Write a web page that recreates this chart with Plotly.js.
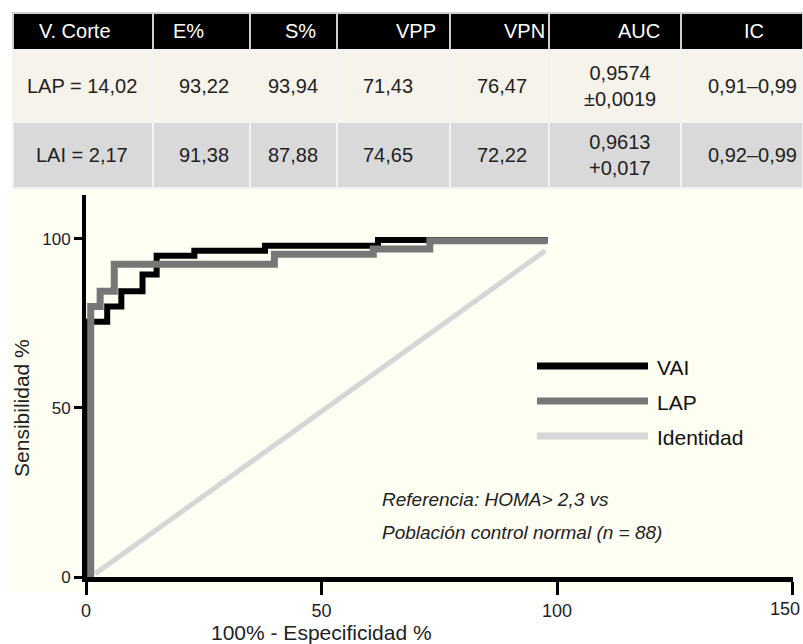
<!DOCTYPE html>
<html>
<head>
<meta charset="utf-8">
<script src="https://cdn.plot.ly/plotly-3.0.1.min.js"></script>
<style>html,body{margin:0;padding:0;background:#fff;}#chart{width:803px;height:644px;}</style>
</head>
<body>
<div id="chart"></div>
<script>
// ---------- data ----------
const tableHeaders = ['V. Corte', 'E%', 'S%', 'VPP', 'VPN', 'AUC', 'IC'];
const tableRowLAP = ['LAP = 14,02', '93,22', '93,94', '71,43', '76,47', '0,9574<br>±0,0019', '0,91–0,99'];
const tableRowLAI = ['LAI = 2,17', '91,38', '87,88', '74,65', '72,22', '0,9613<br>+0,017', '0,92–0,99'];

const seriesNames = ['VAI', 'LAP', 'Identidad'];
const vaiX = [0, 0, 4.5, 7.5, 12, 15, 23, 38, 62, 98];
const vaiY = [0, 75.5, 80, 84.5, 89.5, 95, 96.5, 98, 99.7, 99.7];
const lapX = [1, 1, 3, 6, 40, 61, 73, 98];
const lapY = [0, 80, 84.5, 92.5, 95.5, 97, 99.5, 99.5];
const idX = [2, 97.5];
const idY = [1, 96.5];

const xTickVals = [0, 50, 100, 150];
const xTickText = ['0', '50', '100', '150'];
const yTickVals = [0, 50, 100];
const xTitle = '100% - Especificidad %';
const yTitle = 'Sensibilidad %';
const noteLines = ['Referencia: HOMA> 2,3 vs', 'Población control normal (n = 88)'];

// ---------- layout helpers ----------
const W = 803, H = 644;
const px = v => v / W;
const py = v => 1 - v / H;
const FONT = '"Liberation Sans", Arial, Helvetica, sans-serif';
const colors = {VAI: '#000000', LAP: '#777777', Identidad: '#d6d6d6'};

const colEdges = [13, 153, 250, 337, 450, 549, 681, 803];
const rowEdges = [13, 50, 122, 188];
const rowFills = ['#000000', '#f6f3eb', '#d9d9d9'];
const headerCx = [75, 188, 300, 416, 524, 639, 754];
const cellCx = [82, 204, 293, 388, 502, 620, 752];

const shapes = [];
const annotations = [];

// cream background of the chart
shapes.push({type: 'rect', xref: 'paper', yref: 'paper', layer: 'below',
  x0: px(8), x1: px(803), y0: py(188), y1: py(592),
  fillcolor: '#fefef2', line: {width: 0}});

// table cells
const tableRows = [tableHeaders, tableRowLAP, tableRowLAI];
tableRows.forEach((row, r) => {
  row.forEach((txt, c) => {
    shapes.push({type: 'rect', xref: 'paper', yref: 'paper', layer: 'below',
      x0: px(colEdges[c]), x1: px(colEdges[c + 1]),
      y0: py(rowEdges[r + 1]), y1: py(rowEdges[r]),
      fillcolor: rowFills[r], line: {color: r === 0 ? '#cfcfcf' : '#f2f2f2', width: 2}});
    annotations.push({xref: 'paper', yref: 'paper',
      x: px(r === 0 ? headerCx[c] : cellCx[c]),
      y: py((rowEdges[r] + rowEdges[r + 1]) / 2),
      xanchor: 'center', yanchor: 'middle', showarrow: false, text: txt,
      font: {family: FONT, size: 20, color: r === 0 ? '#ffffff' : '#222222'}});
  });
});

// axis titles
annotations.push({xref: 'x', yref: 'paper', x: 50, y: py(632), text: xTitle, showarrow: false,
  xanchor: 'center', yanchor: 'middle', font: {family: FONT, size: 21, color: '#222'}});
annotations.push({xref: 'paper', yref: 'y', x: px(22), y: 50, text: yTitle, showarrow: false,
  textangle: -90, xanchor: 'center', yanchor: 'middle', font: {family: FONT, size: 21, color: '#222'}});

// note text
const noteY = [499, 532];
noteLines.forEach((t, i) => {
  annotations.push({xref: 'paper', yref: 'paper', x: px(380), y: py(noteY[i]), text: '<i>' + t + '</i>',
    showarrow: false, xanchor: 'left', yanchor: 'middle', font: {family: FONT, size: 19, color: '#222'}});
});

// manual legend
const legY = [366, 401, 436];
seriesNames.forEach((n, i) => {
  shapes.push({type: 'line', xref: 'paper', yref: 'paper', x0: px(537), x1: px(648), y0: py(legY[i]), y1: py(legY[i]),
    line: {color: colors[n], width: 7}});
  annotations.push({xref: 'paper', yref: 'paper', x: px(655), y: py(legY[i] + 1), text: n, showarrow: false,
    xanchor: 'left', yanchor: 'middle', font: {family: FONT, size: 21, color: '#111'}});
});

// last x tick label: the reference shows it flush with the page edge, so it is placed
// right-aligned just inside the page at the last tick's position
const lastIdx = xTickText.length - 1;
const xTickTextShown = xTickText.map((t, i) => i === lastIdx ? '' : t);
annotations.push({xref: 'x', yref: 'paper', x: xTickVals[lastIdx], y: py(609), text: xTickText[lastIdx],
  showarrow: false, xanchor: 'right', yanchor: 'middle', xshift: 9,
  font: {family: FONT, size: 18, color: '#222'}});

// ---------- traces ----------
const traces = [
  {x: idX, y: idY, name: seriesNames[2], mode: 'lines', line: {color: colors.Identidad, width: 5}, hoverinfo: 'skip'},
  {x: vaiX, y: vaiY, name: seriesNames[0], mode: 'lines', line: {color: colors.VAI, width: 6, shape: 'hv'}},
  {x: lapX, y: lapY, name: seriesNames[1], mode: 'lines', line: {color: colors.LAP, width: 7, shape: 'hv'}}
];

const layout = {
  width: W, height: H,
  margin: {l: 0, r: 0, t: 0, b: 0},
  paper_bgcolor: '#ffffff', plot_bgcolor: 'rgba(0,0,0,0)',
  showlegend: false,
  font: {family: FONT, color: '#222'},
  xaxis: {domain: [px(86), px(792.5)], range: [0, 150], tickmode: 'array', tickvals: xTickVals, ticktext: xTickTextShown,
    ticks: 'outside',
    ticklen: 13, tickwidth: 3, tickcolor: '#000', showline: true, linewidth: 5, linecolor: '#000',
    showgrid: false, zeroline: false, ticklabeloverflow: 'allow', automargin: false,
    tickfont: {family: FONT, size: 18, color: '#222'}, fixedrange: true},
  yaxis: {domain: [py(577), py(195)], range: [0, 113], tickvals: yTickVals, ticks: 'outside',
    ticklen: 8, tickwidth: 3, tickcolor: '#000', showline: true, linewidth: 4, linecolor: '#000',
    showgrid: false, zeroline: false, tickfont: {family: FONT, size: 17, color: '#222'}, fixedrange: true},
  shapes: shapes,
  annotations: annotations
};

Plotly.newPlot('chart', traces, layout, {staticPlot: true, displayModeBar: false});
</script>
</body>
</html>
